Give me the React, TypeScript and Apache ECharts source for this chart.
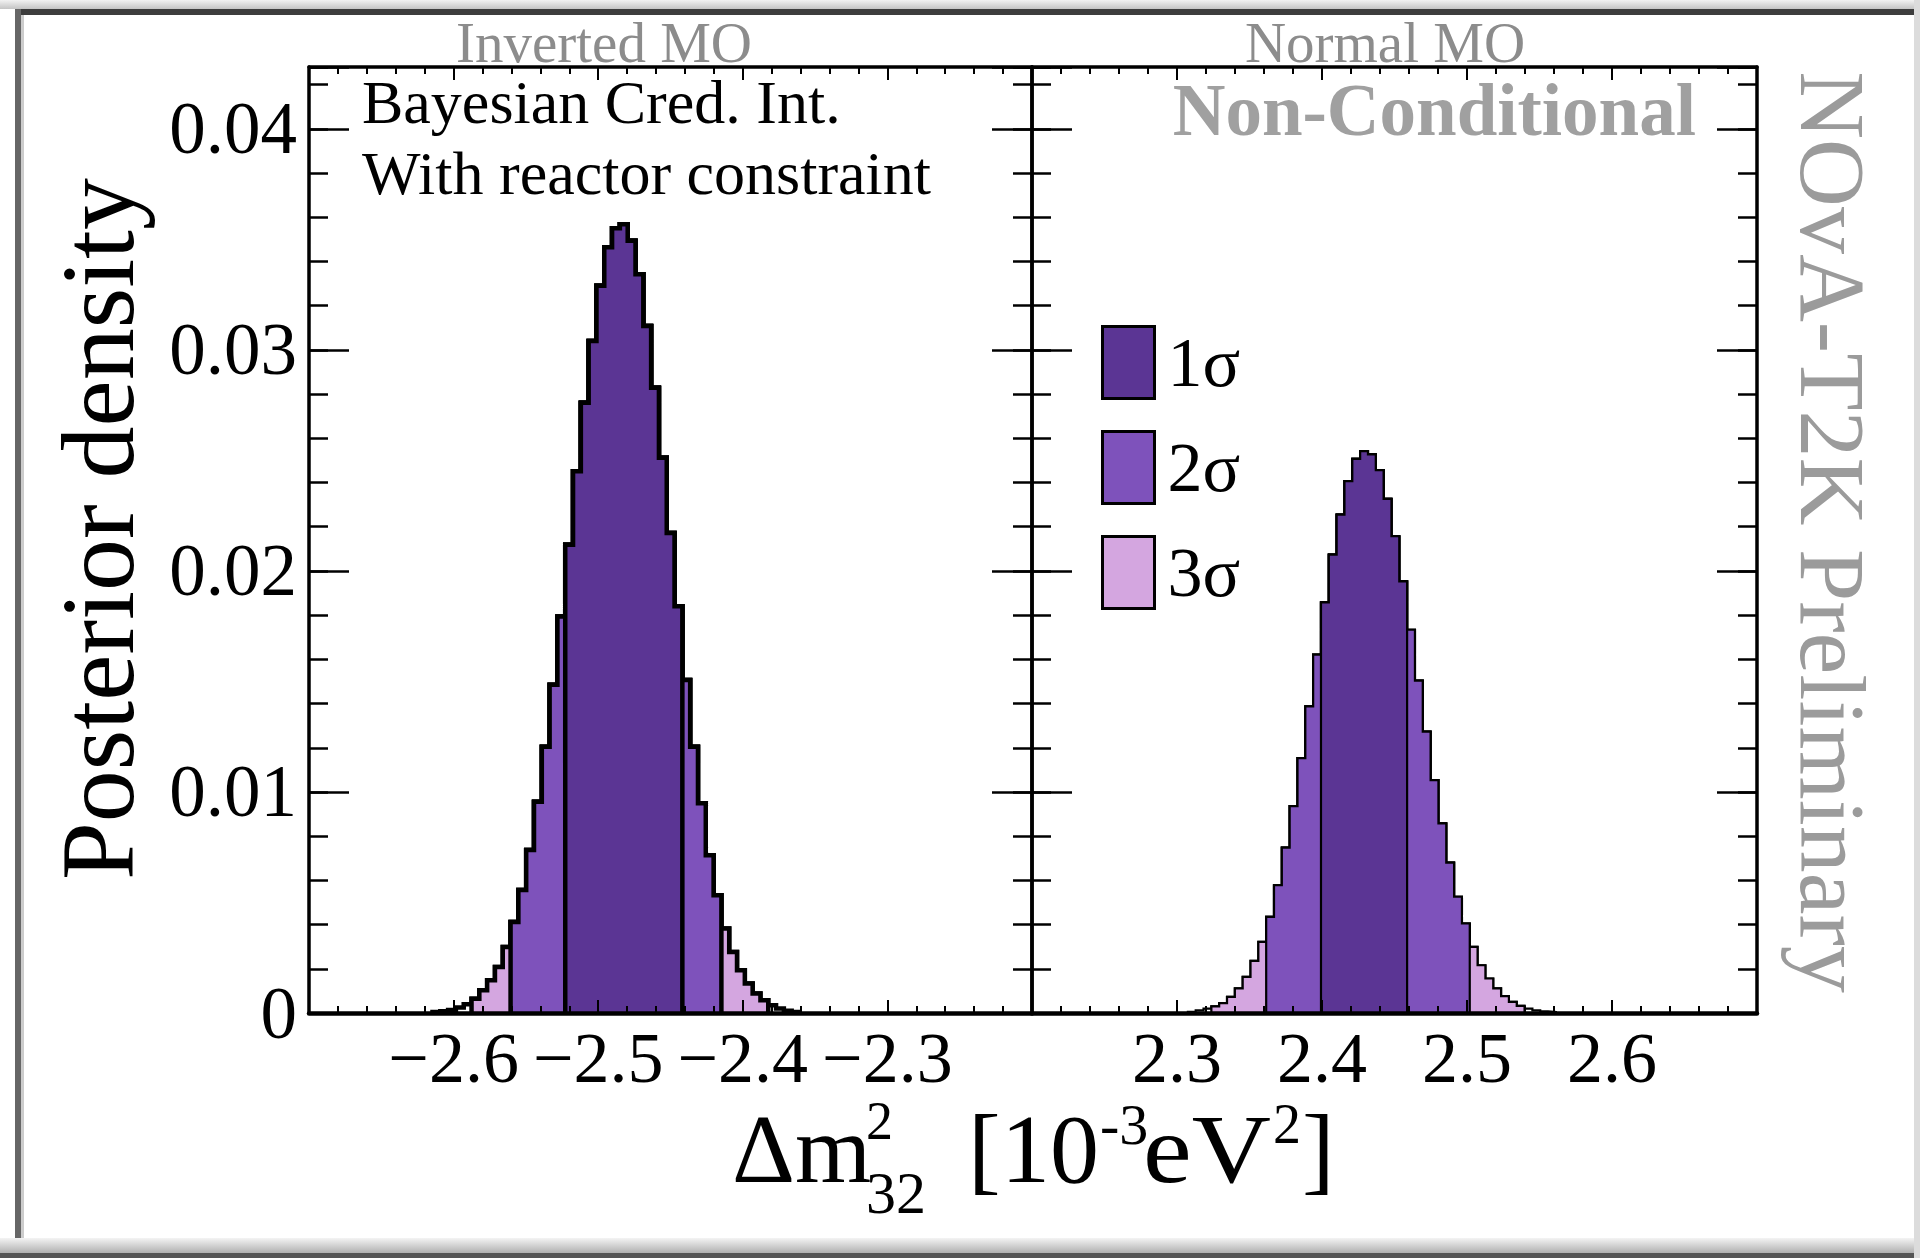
import React, { useEffect, useRef } from 'react';
import * as echarts from 'echarts';

// ---------------- data ----------------
const BIN_WIDTH = 0.0054;
// left edge of the first listed bin in each panel
const IO_FIRST_EDGE = -2.6146;
const NO_FIRST_EDGE = 2.3075;

// Inverted MO posterior density per bin
const ioDensity = [
  0.00004, 0.00008, 0.00014, 0.00025, 0.0004, 0.00065, 0.00103, 0.00148, 0.00208, 0.00299,
  0.00412, 0.00556, 0.00737, 0.00956, 0.01205, 0.01485, 0.01794, 0.02119, 0.02451, 0.02761,
  0.0304, 0.0329, 0.03464, 0.0355, 0.03569, 0.03494, 0.03342, 0.03108, 0.02829, 0.02512,
  0.02172, 0.0184, 0.01507, 0.01205, 0.00949, 0.00714, 0.00533, 0.00382, 0.00276, 0.00193,
  0.00133, 0.00088, 0.00058, 0.00035, 0.0002, 0.0001, 0.00005,
];
// Normal MO posterior density per bin
const noDensity = [
  0.00005, 0.00012, 0.0002, 0.0003, 0.00045, 0.00073, 0.00111, 0.00163, 0.00236, 0.00322,
  0.00435, 0.00578, 0.00748, 0.00936, 0.01153, 0.01387, 0.01621, 0.01858, 0.02074, 0.02255,
  0.02406, 0.02507, 0.02542, 0.02527, 0.02456, 0.02326, 0.02157, 0.01953, 0.01734, 0.01504,
  0.01273, 0.01054, 0.00858, 0.0068, 0.00526, 0.00405, 0.00299, 0.00216, 0.00156, 0.00111,
  0.00076, 0.0005, 0.00032, 0.0002, 0.00012, 0.00007, 0.00004,
];

// credible-interval bin ranges [first, last] (indices into the arrays above)
const ioIntervals = { s1: [17, 31], s2: [10, 36], s3: [5, 42] };
const noIntervals = { s1: [17, 27], s2: [10, 35], s3: [3, 42] };

const ioTicks = [-2.6, -2.5, -2.4, -2.3];
const noTicks = [2.3, 2.4, 2.5, 2.6];
const yTicks = [0, 0.01, 0.02, 0.03, 0.04];

const IO_RANGE = [-2.7, -2.2];
const NO_RANGE = [2.2, 2.7];
const Y_MAX = 0.0428;

const C1 = '#5b3594';
const C2 = '#7e52bb';
const C3 = '#d4a6e0';
const SERIF = '"Liberation Serif", "Times New Roman", serif';

function stepPoints(firstEdge: number, values: number[], from: number, to: number) {
  const pts: number[][] = [[firstEdge + from * BIN_WIDTH, 0]];
  for (let k = from; k <= to; k++) pts.push([firstEdge + k * BIN_WIDTH, values[k]]);
  pts.push([firstEdge + (to + 1) * BIN_WIDTH, 0]);
  return pts;
}

function panelSeries(firstEdge: number, values: number[], iv: any, xi: number, yi: number, lw: number) {
  const base = {
    type: 'line', step: 'end', xAxisIndex: xi, yAxisIndex: yi, showSymbol: false, symbol: 'none',
    silent: true, lineStyle: { color: '#000', width: lw, join: 'miter' },
  };
  return [
    { ...base, name: 'outline', z: 2, data: stepPoints(firstEdge, values, 0, values.length - 1) },
    { ...base, name: '3σ', z: 3, itemStyle: { color: C3 }, areaStyle: { color: C3, opacity: 1 }, data: stepPoints(firstEdge, values, iv.s3[0], iv.s3[1]) },
    { ...base, name: '2σ', z: 4, itemStyle: { color: C2 }, areaStyle: { color: C2, opacity: 1 }, data: stepPoints(firstEdge, values, iv.s2[0], iv.s2[1]) },
    { ...base, name: '1σ', z: 5, itemStyle: { color: C1 }, areaStyle: { color: C1, opacity: 1 }, data: stepPoints(firstEdge, values, iv.s1[0], iv.s1[1]) },
  ];
}

function xLabel(shown: number[]) {
  return (v: number) => {
    const r = Math.round(v * 10) / 10;
    if (!shown.some((t) => Math.abs(t - r) < 1e-6) || Math.abs(v - r) > 1e-6) return '';
    return (r < 0 ? '\u2212' : '') + Math.abs(r).toFixed(1);
  };
}
function yLabel(v: number) {
  const hit = yTicks.find((t) => Math.abs(t - v) < 1e-7);
  if (hit === undefined) return '';
  return hit === 0 ? '0' : hit.toFixed(2);
}

function xAxes(gridIndex: number, range: number[], shown: number[]) {
  const common = {
    type: 'value', gridIndex, min: range[0], max: range[1], interval: 0.1, z: 10,
    splitLine: { show: false },
    minorTick: { show: true, splitNumber: 5, length: 7, lineStyle: { color: '#000', width: 2 } },
    axisTick: { show: true, inside: true, length: 13, lineStyle: { color: '#000', width: 2 } },
  };
  return [
    {
      ...common, position: 'bottom',
      axisLine: { show: true, onZero: false, lineStyle: { color: '#000', width: 4.5 } },
      axisLabel: { show: true, margin: 15, lineHeight: 60, formatter: xLabel(shown), fontFamily: SERIF, fontSize: 72, color: '#000' },
    },
    {
      ...common, position: 'top',
      axisLine: { show: true, onZero: false, lineStyle: { color: '#000', width: 3.5 } },
      axisLabel: { show: false },
    },
  ];
}

function yAxes(gridIndex: number, withLabels: boolean) {
  const mk = (position: string, major: boolean, labels: boolean) => ({
    type: 'value', gridIndex, position, min: 0, max: Y_MAX, interval: major ? 0.01 : 0.002, z: 10,
    splitLine: { show: false },
    axisLine: { show: major, onZero: false, lineStyle: { color: '#000', width: 3.5 } },
    axisTick: { show: true, inside: true, length: major ? 40 : 19, lineStyle: { color: '#000', width: 2.5 } },
    axisLabel: labels
      ? { show: true, margin: 12, formatter: yLabel, fontFamily: SERIF, fontSize: 73, color: '#000' }
      : { show: false },
  });
  return [mk('left', true, withLabels), mk('left', false, false), mk('right', true, false), mk('right', false, false)];
}

function txt(text: string, x: number, y: number, size: number, opts: any = {}) {
  const align = opts.align || 'left';
  return {
    type: 'text', x, y, rotation: opts.rotation || 0, scaleX: opts.scaleX || 1, z: 100, silent: true,
    style: {
      text, fill: opts.fill || '#000', fontFamily: SERIF, fontSize: size, fontWeight: opts.weight || 'normal',
      lineHeight: size,
      align, textAlign: align, verticalAlign: 'middle', textVerticalAlign: 'middle',
    },
  };
}

export default function App() {
  const ref = useRef<HTMLDivElement>(null);
  useEffect(() => {
    if (!ref.current) return;
    const chart = echarts.init(ref.current, null, { renderer: 'svg' });
    const option: any = {
      animation: false,
      backgroundColor: '#ffffff',
      grid: [
        { left: 309, top: 67, width: 723, height: 946 },
        { left: 1032, top: 67, width: 725, height: 946 },
      ],
      xAxis: [...xAxes(0, IO_RANGE, ioTicks), ...xAxes(1, NO_RANGE, noTicks)],
      yAxis: [...yAxes(0, true), ...yAxes(1, false)],
      legend: {
        left: 1096, top: 320, orient: 'vertical', itemWidth: 52, itemHeight: 72, itemGap: 30,
        selectedMode: false, icon: 'rect',
        textStyle: { fontFamily: SERIF, fontSize: 70, color: '#000', lineHeight: 72, padding: [0, 0, 0, 8] },
        data: [
          { name: '1σ', itemStyle: { color: C1, borderColor: '#000', borderWidth: 3 } },
          { name: '2σ', itemStyle: { color: C2, borderColor: '#000', borderWidth: 3 } },
          { name: '3σ', itemStyle: { color: C3, borderColor: '#000', borderWidth: 3 } },
        ],
      },
      series: [
        ...panelSeries(IO_FIRST_EDGE, ioDensity, ioIntervals, 0, 0, 4.5),
        ...panelSeries(NO_FIRST_EDGE, noDensity, noIntervals, 2, 4, 2.2),
      ],
      graphic: [
        // page frame
        { type: 'rect', shape: { x: 0, y: 0, width: 1920, height: 9 }, style: { fill: new echarts.graphic.LinearGradient(0, 0, 0, 1, [{ offset: 0, color: '#f2f2f2' }, { offset: 1, color: '#c4c4c4' }]) }, silent: true },
        { type: 'rect', shape: { x: 15, y: 9, width: 1905, height: 6 }, style: { fill: '#3d3d3d' }, silent: true },
        { type: 'rect', shape: { x: 15, y: 9, width: 6, height: 1244 }, style: { fill: '#666666' }, silent: true },
        { type: 'rect', shape: { x: 21, y: 15, width: 3, height: 1224 }, style: { fill: '#cccccc' }, silent: true },
        { type: 'rect', shape: { x: 0, y: 1238, width: 1920, height: 15 }, style: { fill: new echarts.graphic.LinearGradient(0, 0, 0, 1, [{ offset: 0, color: '#f4f4f4' }, { offset: 1, color: '#b0b0b0' }]) }, silent: true },
        { type: 'rect', shape: { x: 0, y: 1253, width: 1920, height: 5 }, style: { fill: '#555555' }, silent: true },
        { type: 'rect', shape: { x: 1914, y: 0, width: 6, height: 1258 }, style: { fill: '#dcdcdc' }, silent: true },
        // texts
        txt('Inverted MO', 604, 42, 57, { align: 'center', fill: '#8c8c8c' }),
        txt('Normal MO', 1385, 42, 57, { align: 'center', fill: '#8c8c8c' }),
        txt('Bayesian Cred. Int.', 362, 102, 62),
        txt('With reactor constraint', 362, 173, 62),
        txt('Non-Conditional', 1696, 110, 73, { align: 'right', fill: '#a0a0a0', weight: 'bold' }),
        txt('Posterior density', 97, 529, 104, { align: 'center', rotation: Math.PI / 2 }),
        txt('NOvA-T2K Preliminary', 1833, 532, 94, { align: 'center', rotation: -Math.PI / 2, fill: '#9b9b9b' }),
        // x-axis title: Δm²₃₂ [10⁻³eV²]
        txt('\u0394m', 732, 1149, 98),
        txt('2', 866, 1121, 54),
        txt('32', 866, 1193, 60),
        txt('[', 968, 1149, 98),
        txt('10', 1001, 1149, 98),
        txt('-3', 1100, 1124, 58),
        txt('eV', 1143, 1149, 98, { scaleX: 1.12 }),
        txt('2', 1273, 1124, 56),
        txt(']', 1302, 1149, 98),
      ],
    };
    chart.setOption(option);
    return () => chart.dispose();
  }, []);
  return (
    <div
      ref={ref}
      style={{ position: 'absolute', left: 0, top: 0, width: 1920, height: 1258, background: '#fff' }}
    />
  );
}
